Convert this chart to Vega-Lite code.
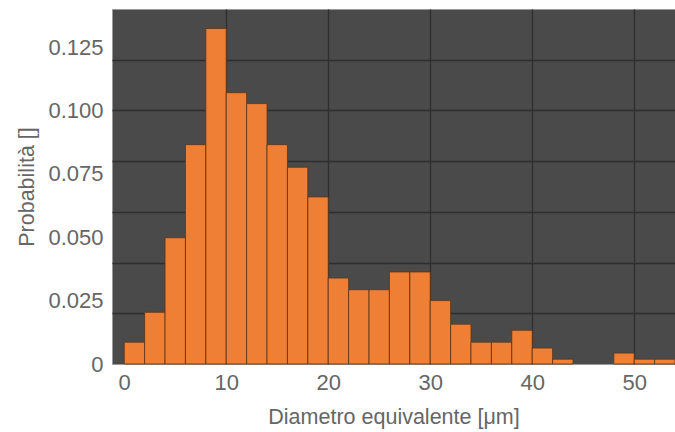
{
  "$schema": "https://vega.github.io/schema/vega-lite/v6.json",
  "autosize": {"type": "none"},
  "padding": {"left": 112, "top": 9, "right": 0, "bottom": 68},
  "width": 563,
  "height": 355,
  "background": "white",
  "config": {
    "view": {"fill": "#4a4a4a", "stroke": "#9a9a9a", "strokeWidth": 1},
    "font": "Liberation Sans"
  },
  "data": {
    "values": [
      {"start": 0, "end": 2, "p": 0.0086},
      {"start": 2, "end": 4, "p": 0.0204},
      {"start": 4, "end": 6, "p": 0.0498},
      {"start": 6, "end": 8, "p": 0.0865},
      {"start": 8, "end": 10, "p": 0.1323},
      {"start": 10, "end": 12, "p": 0.107},
      {"start": 12, "end": 14, "p": 0.1027},
      {"start": 14, "end": 16, "p": 0.0865},
      {"start": 16, "end": 18, "p": 0.0776},
      {"start": 18, "end": 20, "p": 0.0659},
      {"start": 20, "end": 22, "p": 0.0339},
      {"start": 22, "end": 24, "p": 0.0293},
      {"start": 24, "end": 26, "p": 0.0293},
      {"start": 26, "end": 28, "p": 0.0363},
      {"start": 28, "end": 30, "p": 0.0363},
      {"start": 30, "end": 32, "p": 0.025},
      {"start": 32, "end": 34, "p": 0.0157},
      {"start": 34, "end": 36, "p": 0.0086},
      {"start": 36, "end": 38, "p": 0.0086},
      {"start": 38, "end": 40, "p": 0.0133},
      {"start": 40, "end": 42, "p": 0.0063},
      {"start": 42, "end": 44, "p": 0.0019},
      {"start": 48, "end": 50, "p": 0.0043},
      {"start": 50, "end": 52, "p": 0.0019},
      {"start": 52, "end": 54, "p": 0.0019}
    ]
  },
  "mark": {"type": "rect", "fill": "#ee7f34", "stroke": "#5a3418", "strokeWidth": 1, "strokeOpacity": 0.8},
  "encoding": {
    "x": {
      "field": "start", "type": "quantitative",
      "scale": {"domain": [-1.2, 54], "nice": false, "zero": false},
      "axis": {
        "values": [0, 10, 20, 30, 40, 50],
        "title": "Diametro equivalente [μm]",
        "ticks": false, "domain": false,
        "labelFontSize": 22, "labelColor": "#666666", "labelPadding": 8,
        "titleFontSize": 21.5, "titleColor": "#666666", "titleFontWeight": "normal", "titlePadding": 13,
        "grid": true, "gridColor": "#2e2e2e", "gridWidth": 1.3,
        "gridOpacity": {"condition": {"test": "datum.value == 0", "value": 0}, "value": 1}
      }
    },
    "x2": {"field": "end"},
    "y": {
      "field": "p", "type": "quantitative",
      "scale": {"domain": [0, 0.14], "nice": false},
      "axis": {
        "values": [0, 0.02, 0.025, 0.04, 0.05, 0.06, 0.075, 0.08, 0.1, 0.12, 0.125],
        "labelExpr": "datum.value == 0 ? '0' : (round(datum.value * 1000) % 25 == 0 ? format(datum.value, '.3f') : '')",
        "labelOverlap": false,
        "title": "Probabilità []",
        "ticks": false, "domain": false,
        "labelFontSize": 22, "labelColor": "#666666", "labelPadding": 9,
        "titleFontSize": 21.5, "titleColor": "#666666", "titleFontWeight": "normal", "titlePadding": 9,
        "grid": true, "gridColor": "#2e2e2e", "gridWidth": 1.3,
        "gridOpacity": {"condition": {"test": "datum.value > 0 && round(datum.value * 1000) % 20 == 0", "value": 1}, "value": 0}
      }
    }
  }
}
